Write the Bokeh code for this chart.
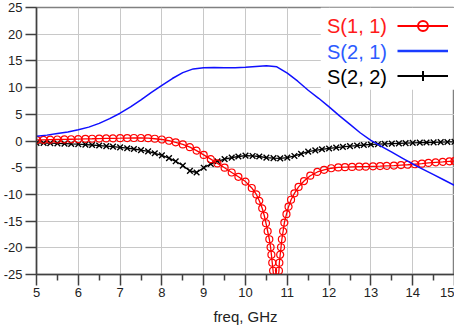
import numpy as np
from bokeh.plotting import figure
from bokeh.models import Range1d, FixedTicker, Legend, LegendItem, Label, BoxAnnotation
from bokeh.embed import file_html
from bokeh.resources import INLINE

FONT = "Liberation Sans"

# ---------------- data ----------------
x_ticks = [5, 6, 7, 8, 9, 10, 11, 12, 13, 14, 15]
x_minor_ticks = [5.5, 6.5, 7.5, 8.5, 9.5, 10.5, 11.5, 12.5, 13.5, 14.5]
y_ticks = [-25, -20, -15, -10, -5, 0, 5, 10, 15, 20, 25]
y_tick_labels = ["-25", "-20", "-15", "-10", "-5", "0", "5", "10", "15", "20", "25"]
x_label = "freq, GHz"
series_names = ["S(1, 1)", "S(2, 1)", "S(2, 2)"]

s21_freq = [5.0, 5.25, 5.5, 5.75, 6.0, 6.25, 6.5, 6.75, 7.0, 7.25, 7.5, 7.75, 8.0, 8.25,
            8.5, 8.75, 9.0, 9.25, 9.5, 9.75, 10.0, 10.25, 10.5, 10.75, 11.0, 11.25, 11.5,
            11.75, 12.0, 12.25, 12.5, 12.75, 13.0, 13.25, 13.5, 13.75, 14.0, 14.25, 14.5,
            14.75, 15.0]
s21_db = [0.9, 1.1, 1.4, 1.7, 2.1, 2.6, 3.3, 4.2, 5.2, 6.4, 7.7, 9.1, 10.4, 11.7,
          12.8, 13.5, 13.7, 13.75, 13.7, 13.7, 13.8, 13.95, 14.1, 13.9, 12.7, 11.2, 9.5,
          8.0, 6.4, 4.7, 3.1, 1.5, 0.1, -1.0, -2.1, -3.2, -4.3, -5.3, -6.3,
          -7.3, -8.3]

s11_freq = [5.00, 5.17, 5.33, 5.50, 5.67, 5.83, 6.00, 6.17, 6.33, 6.50,
            6.67, 6.83, 7.00, 7.17, 7.33, 7.50, 7.67, 7.83, 8.00, 8.17,
            8.33, 8.50, 8.67, 8.83, 9.00, 9.17, 9.33, 9.50, 9.67, 9.83,
            10.00, 10.15, 10.26, 10.33, 10.40, 10.45, 10.49, 10.53, 10.57, 10.60,
            10.62, 10.64, 10.66, 10.68, 10.73, 10.78, 10.80, 10.81, 10.83, 10.85,
            10.87, 10.90, 10.93, 10.98, 11.03, 11.09, 11.17, 11.27, 11.40, 11.55,
            11.72, 11.88, 12.05, 12.22, 12.38, 12.55, 12.72, 12.88, 13.05, 13.22,
            13.38, 13.55, 13.72, 13.88, 14.05, 14.22, 14.38, 14.55, 14.72, 14.88,
            15.00]
s11_db = [0.20, 0.22, 0.25, 0.28, 0.30, 0.33, 0.36, 0.40, 0.42, 0.45,
          0.48, 0.50, 0.52, 0.55, 0.56, 0.56, 0.52, 0.42, 0.28, 0.05,
          -0.25, -0.65, -1.15, -1.8, -2.6, -3.4, -4.2, -5.0, -5.9, -6.7,
          -7.6, -8.8, -10.0, -11.2, -12.6, -14.0, -15.4, -16.9, -18.4, -19.9,
          -21.3, -22.8, -24.3, -25.8, -28.5, -25.8, -24.3, -22.8, -21.3, -19.9,
          -18.4, -16.9, -15.3, -13.7, -12.3, -11.0, -9.8, -8.6, -7.5, -6.5,
          -5.8, -5.4, -5.1, -4.95, -4.9, -4.85, -4.8, -4.8, -4.75, -4.7,
          -4.65, -4.6, -4.5, -4.45, -4.35, -4.25, -4.1, -4.0, -3.9, -3.8,
          -3.75]

s22_freq = [5.00, 5.17, 5.33, 5.50, 5.67, 5.83, 6.00, 6.17, 6.33, 6.50,
            6.67, 6.83, 7.00, 7.17, 7.33, 7.50, 7.67, 7.83, 8.00, 8.17,
            8.33, 8.50, 8.67, 8.83, 9.00, 9.17, 9.33, 9.50, 9.67, 9.83,
            10.00, 10.17, 10.33, 10.50, 10.67, 10.83, 11.00, 11.17, 11.33, 11.50,
            11.67, 11.83, 12.00, 12.17, 12.33, 12.50, 12.67, 12.83, 13.00, 13.17,
            13.33, 13.50, 13.67, 13.83, 14.00, 14.17, 14.33, 14.50, 14.67, 14.83,
            15.00]
s22_db = [-0.35, -0.38, -0.40, -0.45, -0.50, -0.55, -0.60, -0.68, -0.75, -0.85,
          -0.95, -1.05, -1.2, -1.35, -1.5, -1.7, -1.95, -2.3, -2.7, -3.2,
          -3.8, -4.6, -5.6, -5.9, -5.0, -4.3, -3.8, -3.4, -3.1, -2.9,
          -2.75, -2.8, -2.9, -3.1, -3.2, -3.25, -3.1, -2.8, -2.4, -2.0,
          -1.75, -1.55, -1.4, -1.25, -1.1, -0.95, -0.85, -0.75, -0.65, -0.6,
          -0.55, -0.5, -0.45, -0.4, -0.35, -0.3, -0.28, -0.25, -0.2, -0.18,
          -0.15]

# ---------------- figure ----------------
p = figure(width=454, height=327, x_range=Range1d(5, 15), y_range=Range1d(-25, 25),
           output_backend="svg", toolbar_location=None,
           min_border_left=0, min_border_right=0, min_border_top=7, min_border_bottom=0)
p.background_fill_color = "white"
p.border_fill_color = "white"
p.outline_line_color = "#808080"
p.outline_line_width = 1.5

# axes
p.xaxis.ticker = FixedTicker(ticks=x_ticks, minor_ticks=x_minor_ticks)
p.yaxis.ticker = FixedTicker(ticks=y_ticks, minor_ticks=[])
p.yaxis.major_label_overrides = {t: l for t, l in zip(y_ticks, y_tick_labels)}
p.xaxis.major_label_overrides = {t: str(t) for t in x_ticks}
for ax in (p.xaxis, p.yaxis):
    ax.axis_line_color = "#404040"
    ax.axis_line_width = 1.5
    ax.major_tick_line_color = "#404040"
    ax.major_tick_line_width = 1.5
    ax.minor_tick_line_color = "#404040"
    ax.minor_tick_line_width = 1.5
    ax.major_tick_in = 0
    ax.minor_tick_in = 0
    ax.major_label_text_font = FONT
    ax.major_label_text_font_size = "13px"
    ax.major_label_text_color = "#222222"
p.xaxis.major_tick_out = 11
p.xaxis.minor_tick_out = 6
p.xaxis.major_label_standoff = 2
p.yaxis.major_tick_out = 11
p.yaxis.minor_tick_out = 0
p.yaxis.major_label_standoff = 3
p.xaxis.axis_label = x_label
p.xaxis.axis_label_text_font = FONT
p.xaxis.axis_label_text_font_size = "15px"
p.xaxis.axis_label_text_font_style = "normal"
p.xaxis.axis_label_text_color = "#222222"
p.xaxis.axis_label_standoff = 8

for g in (p.xgrid, p.ygrid):
    g.grid_line_color = "#c8c8c8"
    g.grid_line_width = 1

# legend background (hides grid lines behind the legend)
p.add_layout(BoxAnnotation(left=11.8, right=15, bottom=9.6, top=25,
                           fill_color="white", fill_alpha=1.0, line_alpha=0,
                           level="underlay"))

# ---------------- series ----------------
black_line = p.line(s22_freq, s22_db, line_color="black", line_width=1.3)
p.scatter(s22_freq, s22_db, marker="x", size=8, line_color="black", line_width=1.4)

red_line = p.line(s11_freq, s11_db, line_color="#ff0000", line_width=1.3)
p.scatter(s11_freq, s11_db, marker="circle", size=7, line_color="#ff0000",
          fill_color=None, line_width=1.2)

blue_line = p.line(s21_freq, s21_db, line_color="#1010ff", line_width=1.5)

# legend glyphs (empty renderers used only for the legend swatches)
nan = np.array([np.nan])
lg_red_line = p.line(nan, nan, line_color="#ff0000", line_width=2)
lg_red_mark = p.scatter(nan, nan, marker="circle", line_color="#ff0000", fill_color=None,
                        line_width=2)
lg_blue_line = p.line(nan, nan, line_color="#1a3cff", line_width=2.5)
lg_black_line = p.line(nan, nan, line_color="black", line_width=2)
lg_black_mark = p.scatter(nan, nan, marker="cross", line_color="black", line_width=2)

legend = Legend(items=[LegendItem(label=" ", renderers=[lg_red_line, lg_red_mark]),
                       LegendItem(label=" ", renderers=[lg_blue_line]),
                       LegendItem(label=" ", renderers=[lg_black_line, lg_black_mark])],
                location="top_right", margin=0, padding=6, spacing=0,
                glyph_width=51, glyph_height=25, label_width=0, label_height=25,
                label_standoff=0, label_text_font_size="1px",
                background_fill_alpha=0, border_line_alpha=0)
p.add_layout(legend)

label_colors = ["#ff1a1a", "#2d5bff", "#000000"]
label_ys = [21.46, 16.7, 12.0]
for name, col, yy in zip(series_names, label_colors, label_ys):
    p.add_layout(Label(x=11.95, y=yy, text=name, text_color=col, text_font=FONT,
                       text_font_size="20px", text_baseline="middle", text_align="left"))

open("out.html", "w").write(file_html(p, INLINE))
